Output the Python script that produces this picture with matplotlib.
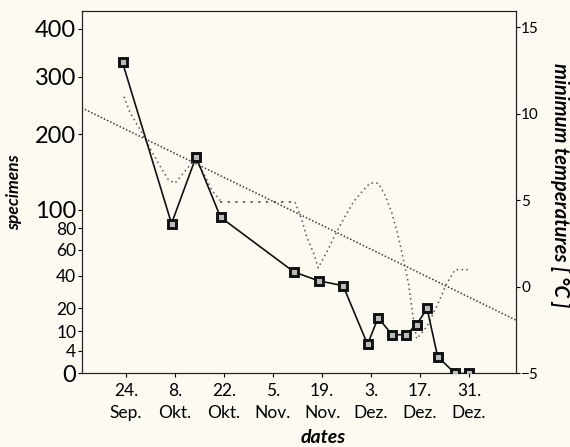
import numpy as np
import matplotlib
matplotlib.use('Agg')
import matplotlib.pyplot as plt

plt.rcParams['font.family'] = ['Lato', 'DejaVu Sans']

# specimens (left axis), days counted from 24. Sep.
spec_days = [-1, 13, 20, 27, 48, 55, 62, 69, 72, 76, 80, 83, 86, 89, 94, 98]
specimens = [330, 85, 170, 92, 43, 37, 34, 6, 16, 9, 9, 13, 20, 3, 0, 0]

# minimum temperatures (right axis)
temp_days_a = [-0.6, 1.1, 4.0, 6.9, 9.7, 12.1, 14.0, 17.3, 19.7, 22.1, 24.5, 26.9]
temp_a = [11.0, 10.1, 9.1, 8.0, 7.0, 6.2, 6.0, 6.8, 7.4, 6.6, 5.6, 5.0]
gap_days = [26.9, 48.3]
gap_temp = [4.9, 4.9]
temp_days_b = [48.3, 50.2, 51.6, 53.5, 54.9, 57.3, 59.7, 62.1, 64.9, 67.8, 69.7, 72.1,
               74.0, 75.9, 77.8, 79.2, 80.7, 81.9, 83.0, 85.9, 88.8, 91.6, 94.0, 97.8]
temp_b = [4.9, 3.9, 2.9, 2.0, 1.1, 2.0, 3.0, 3.9, 4.9, 5.6, 6.0, 6.0,
          5.3, 4.3, 2.9, 1.6, 0.2, -1.6, -3.0, -2.3, -1.1, 0.2, 1.0, 1.0]

# linear trend of the temperatures
trend_intercept = 9.10
trend_slope = -0.0989

date_ticks = [0, 14, 28, 42, 56, 70, 84, 98]
date_labels = ['24.\nSep.', '8.\nOkt.', '22.\nOkt.', '5.\nNov.',
               '19.\nNov.', '3.\nDez.', '17.\nDez.', '31.\nDez.']

left_ticks = [0, 4, 10, 20, 40, 60, 80, 100, 200, 300, 400]
big_ticks = [0, 100, 200, 300, 400]
temp_ticks = [-5, 0, 5, 10, 15]

# the hand-made vertical scale of the specimens axis
scale_vals = [0, 4, 10, 20, 40, 60, 80, 100, 200, 300, 400, 500]
scale_pos = [0, 22.6, 42, 65, 97.6, 123.6, 145.3, 163.6, 239.3, 296.6, 345, 393.3]

def fwd(v):
    return np.interp(v, scale_vals, scale_pos)

def inv(p):
    return np.interp(p, scale_pos, scale_vals)

bg = '#fcfaf1'
fig = plt.figure(figsize=(5.7, 4.47), dpi=100, facecolor=bg)
ax = fig.add_axes([0.1433, 0.1645, 0.7614, 0.8116])
ax2 = ax.twinx()

xlim = (-12.66, 111.3)

# temperatures
ax2.plot(temp_days_a, temp_a, color='#555555', lw=1.1, ls=(0, (1, 2.2)))
ax2.plot(gap_days, gap_temp, color='#444444', lw=1.1, ls=(0, (1.5, 3.5)))
ax2.plot(temp_days_b, temp_b, color='#555555', lw=1.1, ls=(0, (1, 2.2)))
tx = np.array(xlim)
ax2.plot(tx, trend_intercept + trend_slope * tx, color='#3a3a3a', lw=1.1, ls=(0, (1, 1.3)))
ax2.set_ylim(-5, 15.97)
ax2.set_yticks(temp_ticks)
ax2.tick_params(axis='y', direction='out', length=3, width=0.8, pad=1, labelsize=11)
ax2.set_ylabel('minimum temperatures [ °C ]', fontsize=14.5, fontweight='bold', style='italic',
               rotation=270, va='center')
ax2.yaxis.set_label_coords(1.102, 0.518)

# specimens
ax.set_yscale('function', functions=(fwd, inv))
ax.plot(spec_days, specimens, color='#111111', lw=1.2, marker='s', ms=6,
        mfc='#bbbbbb', mec='#111111', mew=2.1, zorder=5)
ax.set_zorder(ax2.get_zorder() + 1)
ax.patch.set_visible(False)
ax2.patch.set_facecolor(bg)

ax.set_ylim(0, 437)
ax.set_yticks(left_ticks)
ax.set_yticklabels([str(t) for t in left_ticks])
for t, lab in zip(left_ticks, ax.get_yticklabels()):
    lab.set_fontsize(17 if t in big_ticks else 12.5)
ax.minorticks_off()
ax.tick_params(axis='y', direction='out', length=3, width=0.8, pad=1)

ax.set_xlim(*xlim)
ax.set_xticks(date_ticks)
ax.set_xticklabels(date_labels, fontsize=12.5, linespacing=1.45)
ax.tick_params(axis='x', direction='out', length=3, width=0.8, pad=4)

ax.set_ylabel('specimens', fontsize=12.5, fontweight='bold', style='italic', labelpad=9)
ax.set_xlabel('dates', fontsize=14, fontweight='bold', style='italic')
ax.xaxis.set_label_coords(0.556, -0.152)

for a in (ax, ax2):
    for s in a.spines.values():
        s.set_linewidth(0.8)
        s.set_color('#222222')

plt.savefig('out.png', dpi=100, facecolor=bg)
